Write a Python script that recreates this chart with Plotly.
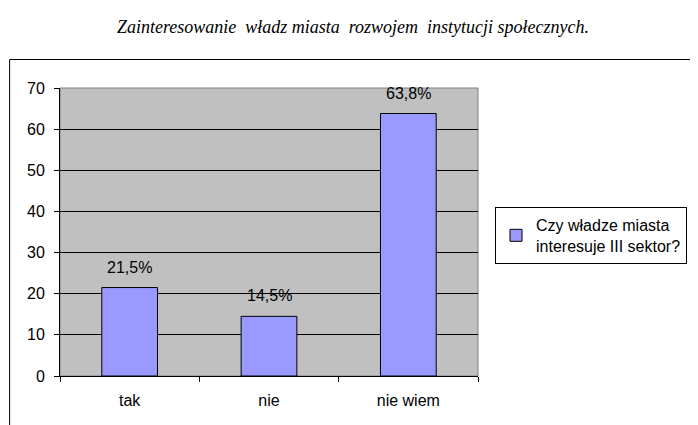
import plotly.graph_objects as go

categories = ["tak", "nie", "nie wiem"]
values = [21.5, 14.5, 63.8]
value_labels = ["21,5%", "14,5%", "63,8%"]
series_name = "Czy władze miasta<br>interesuje III sektor?"
title_text = "Zainteresowanie\u00a0 władz miasta\u00a0 rozwojem\u00a0 instytucji społecznych."
y_ticks = [0, 10, 20, 30, 40, 50, 60, 70]

# the page body adds an 8px margin; the figure is sized/placed to compensate
O = 8
W, H = 698 - O, 425 - O
L = 60 - O
T = 88 - O
R = W - (479 - O)
B = H - (376 - O)
pw = W - L - R
ph = H - T - B


def px_x(p):  # window pixel -> paper x
    return (p - O - L) / pw


def px_y(p):  # window pixel -> paper y
    return (H - B - (p - O)) / ph


fig = go.Figure()
fig.add_trace(go.Bar(
    x=categories, y=values, name=series_name,
    marker=dict(color="#9999FF", line=dict(color="black", width=1)),
    showlegend=True,
))

for c, v, t in zip(categories, values, value_labels):
    fig.add_annotation(x=c, y=v, text=t, showarrow=False, yanchor="bottom",
                       yshift=10, font=dict(family="Liberation Sans, Arial", size=16, color="black"))

fig.add_shape(type="rect", xref="paper", yref="paper", x0=0, x1=1, y0=0, y1=1,
              line=dict(color="#808080", width=1), layer="between")
fig.add_shape(type="rect", xref="paper", yref="paper",
              x0=px_x(9.5), x1=px_x(720), y0=px_y(450), y1=px_y(59.5),
              line=dict(color="black", width=1), fillcolor="rgba(0,0,0,0)", layer="above")

fig.update_layout(
    width=W, height=H,
    margin=dict(l=L, r=R, t=T, b=B),
    paper_bgcolor="white", plot_bgcolor="#C0C0C0",
    bargap=0.6,
    font=dict(family="Liberation Sans, Arial", size=16, color="black"),
    title=dict(text="<i>" + title_text + "</i>", x=(353 - O) / W, xanchor="center",
               y=1 - (27 - O) / H, yanchor="middle",
               font=dict(family="Liberation Serif, Times New Roman", size=18, color="black")),
    legend=dict(x=px_x(495), y=px_y(207), xanchor="left", yanchor="top",
                bgcolor="white", bordercolor="black", borderwidth=1,
                font=dict(family="Liberation Sans, Arial", size=16, color="black")),
    xaxis=dict(showline=True, linecolor="black", linewidth=1, ticks="outside",
               tickson="boundaries", ticklen=5, tickcolor="black", showgrid=False,
               ticklabelstandoff=10),
    yaxis=dict(range=[0, 70], tickvals=y_ticks, showline=True, linecolor="black", linewidth=1,
               ticks="outside", ticklen=5, tickcolor="black", showgrid=True,
               gridcolor="black", gridwidth=1, zeroline=False, ticklabelstandoff=6),
)

fig.write_html("out.html")
